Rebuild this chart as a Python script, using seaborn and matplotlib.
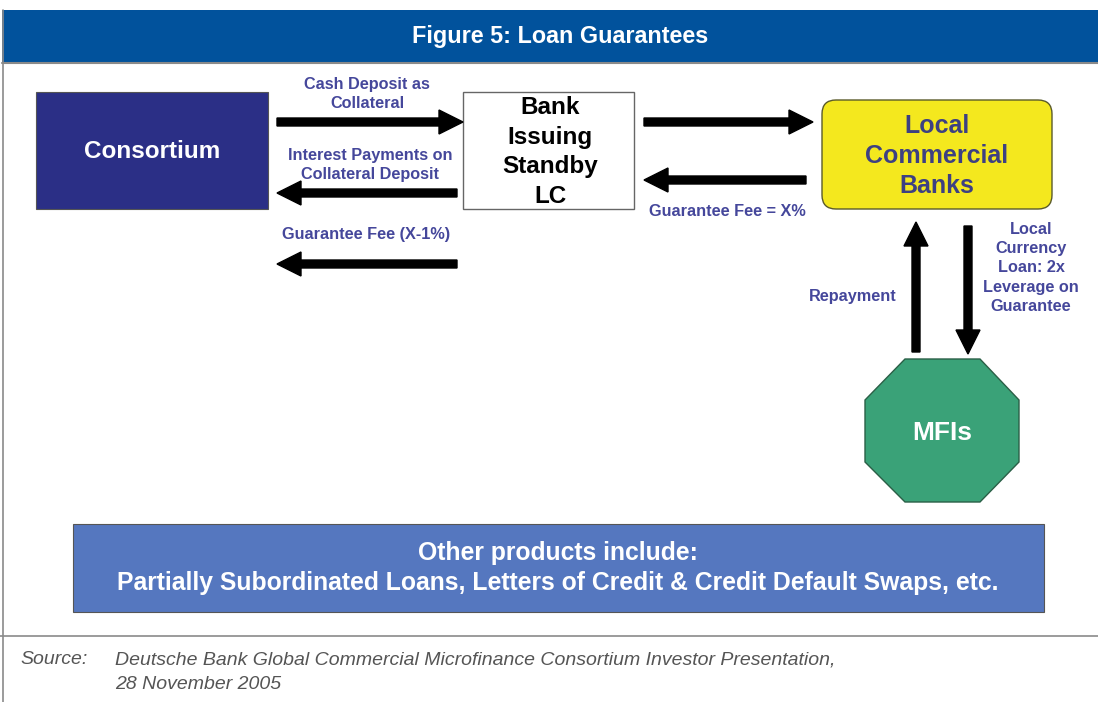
import numpy as np
import seaborn as sns
import matplotlib.pyplot as plt
from matplotlib.patches import Rectangle, FancyBboxPatch, Polygon, FancyArrow

# --- content ---
title = "Figure 5: Loan Guarantees"
node_names = ["Consortium", "Bank\nIssuing\nStandby\nLC", "Local\nCommercial\nBanks", "MFIs"]
flow_labels = ["Cash Deposit as\nCollateral",
               "Interest Payments on\nCollateral Deposit",
               "Guarantee Fee (X-1%)",
               "Guarantee Fee = X%",
               "Repayment",
               "Local\nCurrency\nLoan: 2x\nLeverage on\nGuarantee"]
other_products = "Other products include:\nPartially Subordinated Loans, Letters of Credit & Credit Default Swaps, etc."
source_tag = "Source:"
source_text = "Deutsche Bank Global Commercial Microfinance Consortium Investor Presentation,\n28 November 2005"

# --- layout (pixel coords, y down) ---
W, H = 1098, 702
arrows = [  # x0, y0, x1, y1
    (277, 122, 463, 122),
    (457, 193, 277, 193),
    (457, 264, 277, 264),
    (644, 122, 813, 122),
    (806, 180, 644, 180),
    (916, 352, 916, 222),
    (968, 226, 968, 354),
]
label_pos = [(367, 94, "center", 1.3), (370, 165, "center", 1.3), (366, 235, "center", 1.3),
             (649, 211, "left", 1.3), (853, 297, "center", 1.3), (1031, 268, "center", 1.37)]

label_color = "#45479b"

sns.set_theme(style="white")
plt.rcParams['font.family'] = ['Liberation Sans', 'DejaVu Sans']

fig = plt.figure(figsize=(W / 100, H / 100), dpi=100)
ax = fig.add_axes([0, 0, 1, 1])
ax.set_xlim(0, W)
ax.set_ylim(H, 0)
ax.axis("off")

# header band and frame
ax.add_patch(Rectangle((2, 10), W, 52, facecolor="#01529c", edgecolor="none"))
ax.plot([2, W], [63, 63], color="#8a8a8a", lw=1.5)
ax.plot([3, 3], [10, H], color="#8a8a8a", lw=1.2)
ax.plot([0, W], [636, 636], color="#8a8a8a", lw=1.2)
ax.text(560, 36, title, color="white", fontsize=16.8, fontweight="bold",
        ha="center", va="center")

# nodes
ax.add_patch(Rectangle((36, 92), 232, 117, facecolor="#2b2f86", edgecolor="#555555", lw=0.8))
ax.text(152, 152, node_names[0], color="white", fontsize=17.5, fontweight="bold",
        ha="center", va="center")

ax.add_patch(Rectangle((463, 92), 171, 117, facecolor="white", edgecolor="#666666", lw=1))
ax.text(550, 152, node_names[1], color="black", fontsize=17.5, fontweight="bold",
        ha="center", va="center", linespacing=1.36)

ax.add_patch(FancyBboxPatch((822, 100), 230, 109, boxstyle="round,pad=0,rounding_size=14",
                            facecolor="#f4e81e", edgecolor="#5a5a2a", lw=1))
ax.text(937, 156, node_names[2], color="#3d4082", fontsize=18, fontweight="bold",
        ha="center", va="center", linespacing=1.29)

octagon = np.array([(905, 359), (980, 359), (1019, 400), (1019, 462),
                    (980, 502), (905, 502), (865, 462), (865, 400)])
ax.add_patch(Polygon(octagon, closed=True, facecolor="#3aa278", edgecolor="#2a5f46", lw=1))
ax.text(942, 433, node_names[3], color="white", fontsize=19, fontweight="bold",
        ha="center", va="center")

# arrows
for x0, y0, x1, y1 in arrows:
    ax.add_patch(FancyArrow(x0, y0, x1 - x0, y1 - y0, width=8, head_width=24,
                            head_length=24, length_includes_head=True,
                            facecolor="black", edgecolor="black"))

# flow labels
for txt, (x, y, ha, ls) in zip(flow_labels, label_pos):
    ax.text(x, y, txt, color=label_color, fontsize=11.7, fontweight="bold",
            ha=ha, va="center", linespacing=ls)

# bottom box
ax.add_patch(Rectangle((73, 524), 971, 88, facecolor="#5577bf", edgecolor="#555555", lw=0.8))
ax.text(558, 568, other_products, color="white", fontsize=17.8, fontweight="bold",
        ha="center", va="center", linespacing=1.35)

# source
ax.text(20, 660, source_tag, color="#555555", fontsize=14, style="italic", va="center")
ax.text(115, 672, source_text, color="#555555", fontsize=14, style="italic",
        va="center", linespacing=1.55)

fig.savefig("out.png", dpi=100)
